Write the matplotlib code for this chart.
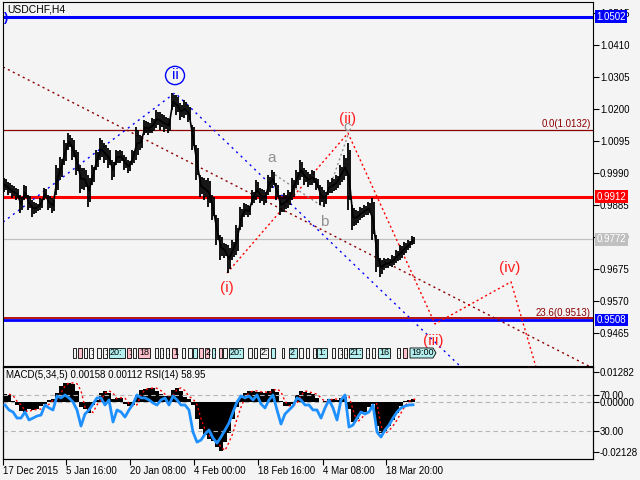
import matplotlib
matplotlib.use("Agg")
import matplotlib.pyplot as plt
import matplotlib.transforms as mtransforms
from matplotlib.patches import Rectangle, Polygon, Ellipse
import numpy as np

plt.rcParams['font.family'] = ['Liberation Sans', 'DejaVu Sans']

# USDCHF H4, price per block of 4 bars (high / low)
hi = [0.9974, 0.9961, 0.9951, 0.9941, 0.9918, 0.9951, 0.9918, 0.9902, 0.9892, 0.9908,
      0.9941, 0.9918, 0.9908, 1.0016, 1.0043, 1.0098, 1.0121, 1.0105, 1.0066, 1.0016,
      1.0007, 0.9984, 1.0016, 1.0066, 1.0105, 1.0088, 1.0072, 1.0033, 1.0066, 1.0066,
      1.0049, 1.0033, 1.0066, 1.0141, 1.0115, 1.0164, 1.0157, 1.0171, 1.0197, 1.0190,
      1.0180, 1.0171, 1.0253, 1.0246, 1.0220, 1.0230, 1.0213, 1.0148, 1.0082, 0.9984,
      0.9974, 0.9974, 0.9918, 0.9852, 0.9787, 0.9761, 0.9754, 0.9770, 0.9820, 0.9879,
      0.9892, 0.9885, 0.9934, 0.9967, 0.9941, 0.9934, 0.9984, 1.0000, 0.9957, 0.9918,
      0.9925, 0.9934, 0.9974, 1.0000, 1.0033, 1.0007, 0.9993, 1.0000, 0.9974, 0.9951,
      0.9934, 0.9967, 0.9974, 0.9984, 1.0016, 1.0049, 1.0088, 0.9885, 0.9869, 0.9879,
      0.9885, 0.9895, 0.9908, 0.9787, 0.9711, 0.9711, 0.9711, 0.9721, 0.9738, 0.9754,
      0.9764, 0.9770, 0.9783]
lo = [0.9928, 0.9918, 0.9908, 0.9902, 0.9859, 0.9902, 0.9869, 0.9846, 0.9859, 0.9869,
      0.9902, 0.9869, 0.9859, 0.9918, 0.9967, 1.0016, 1.0066, 1.0033, 0.9984, 0.9925,
      0.9934, 0.9879, 0.9951, 1.0000, 1.0033, 1.0023, 1.0007, 0.9967, 1.0016, 1.0023,
      1.0000, 0.9990, 1.0016, 1.0033, 1.0066, 1.0115, 1.0115, 1.0121, 1.0138, 1.0131,
      1.0125, 1.0121, 1.0197, 1.0180, 1.0164, 1.0171, 1.0157, 1.0066, 0.9967, 0.9911,
      0.9902, 0.9879, 0.9836, 0.9754, 0.9705, 0.9711, 0.9662, 0.9705, 0.9721, 0.9803,
      0.9846, 0.9846, 0.9885, 0.9902, 0.9892, 0.9885, 0.9918, 0.9941, 0.9902, 0.9852,
      0.9862, 0.9875, 0.9902, 0.9941, 0.9967, 0.9951, 0.9944, 0.9951, 0.9934, 0.9885,
      0.9879, 0.9918, 0.9925, 0.9934, 0.9951, 0.9967, 0.9869, 0.9803, 0.9820, 0.9836,
      0.9846, 0.9852, 0.9770, 0.9665, 0.9649, 0.9672, 0.9679, 0.9682, 0.9695, 0.9705,
      0.9721, 0.9738, 0.9754]

# MACD(5,34,5) main and RSI(14) per block
macd = [0.0035, 0.0030, 0.0005, -0.0010, -0.0035, -0.0040, -0.0030, -0.0031, -0.0028, -0.0015,
        -0.0008, 0.0010, 0.0014, 0.0040, 0.0070, 0.0083, 0.0083, 0.0080, 0.0050, -0.0020,
        -0.0030, -0.0043, -0.0010, 0.0010, 0.0040, 0.0049, 0.0040, 0.0015, 0.0020, 0.0018,
        -0.0005, -0.0014, -0.0010, 0.0030, 0.0055, 0.0058, 0.0062, 0.0060, 0.0050, 0.0035,
        0.0028, 0.0030, 0.0055, 0.0062, 0.0050, 0.0025, 0.0015, -0.0010, -0.0070, -0.0115,
        -0.0140, -0.0155, -0.0165, -0.0190, -0.0205, -0.0170, -0.0130, -0.0070, -0.0020, 0.0020,
        0.0040, 0.0049, 0.0049, 0.0045, 0.0045, 0.0040, 0.0050, 0.0058, 0.0045, 0.0005,
        -0.0014, -0.0014, -0.0005, 0.0030, 0.0049, 0.0045, 0.0040, 0.0035, 0.0020, 0.0003,
        0.0005, 0.0016, 0.0014, 0.0010, 0.0020, 0.0025, -0.0030, -0.0085, -0.0070, -0.0050,
        -0.0040, -0.0020, -0.0005, -0.0100, -0.0132, -0.0120, -0.0100, -0.0075, -0.0045, -0.0015,
        0.0005, 0.0012, 0.0016]
rsi = [58.7, 53.3, 51.1, 44.5, 44.5, 51.1, 42.4, 44.5, 46.7, 47.8,
       58.7, 55.5, 53.3, 68.5, 66.4, 69.6, 66.4, 62.0, 53.3, 35.8,
       48.9, 53.3, 59.8, 66.4, 66.4, 58.7, 64.2, 40.2, 53.3, 51.1,
       45.6, 53.3, 59.8, 69.6, 66.4, 66.4, 64.2, 60.9, 58.7, 64.2,
       66.4, 58.7, 68.5, 64.2, 58.7, 58.7, 53.3, 29.3, 18.4, 20.6,
       27.1, 31.5, 22.8, 17.3, 23.9, 31.5, 39.1, 51.1, 62.0, 68.5,
       66.4, 68.5, 64.2, 69.6, 59.8, 55.5, 64.2, 69.6, 53.3, 38.0,
       48.9, 53.3, 57.6, 66.4, 64.2, 58.7, 58.7, 53.3, 53.3, 44.5,
       55.5, 64.2, 55.5, 42.4, 64.2, 69.6, 34.7, 36.9, 44.5, 51.1,
       48.9, 51.1, 58.7, 29.3, 23.9, 31.5, 36.9, 44.5, 51.1, 55.5,
       57.6, 58.7, 58.95]

# wave marks (bar index, price)
wave_red_x = [224, 345, 432, 508, 536]
wave_red_y = [0.9662, 1.0121, 0.9495, 0.9633, 0.9320]
abc_x = [268, 320, 345]
abc_y = [0.9993, 0.9879, 1.0115]
blue_x = [0, 172, 470]
blue_y = [0.9829, 1.0253, 0.9316]
chan_x = [0, 600]
chan_y = [1.0338, 0.9333]

# time axis
date_pos = [0, 63, 127, 191, 255, 320, 383]
date_lbl = ['17 Dec 2015', '5 Jan 16:00', '20 Jan 08:00', '4 Feb 00:00',
            '18 Feb 16:00', '4 Mar 08:00', '18 Mar 20:00']
price_ticks = [1.0515, 1.0410, 1.0305, 1.0200, 1.0095, 0.9990, 0.9885,
               0.9780, 0.9675, 0.9570, 0.9465]

# session tags along the bottom of the price window
tag_start = [70, 75, 81, 86, 94, 100, 106, 124, 130, 135, 152, 157, 163, 169, 179, 185, 190,
             196, 202, 209, 216, 220, 226, 245, 251, 257, 268, 279, 286, 296, 303, 310, 314,
             329, 335, 341, 346, 363, 369, 375, 394, 400, 407]
tag_end = [73, 79, 84, 90, 98, 104, 122, 128, 133, 147, 155, 160, 166, 174, 182, 189, 194,
           200, 206, 212, 219, 224, 240, 249, 254, 265, 272, 281, 294, 300, 306, 313, 324,
           332, 339, 344, 359, 366, 372, 387, 397, 404, 430]
tag_kind = list('wpwwwwcpwp' 'wwwpwwcppc' 'pwcwwwcwcw' 'wwcwwwcwwc' 'wpc')
tag_text = ['', '', '', ':', '', ':', '20:', ':', '', '18',
            '', ':', ':', '1', '', '', '', '', '2', ':',
            '', '', '20:', '', '', '2:', '', '', '2', '',
            '', ':', '1:', '', ':', ':', '21:', ':', '', '16',
            ':', '', '19:00']

bg = '#f4f4f4'
brown = '#8b0000'
fig = plt.figure(figsize=(6.4, 4.8), dpi=100, facecolor=bg)
ax = fig.add_axes([3/640, 114/480, 590/640, 364/480], facecolor=bg)
axi = fig.add_axes([3/640, 21/480, 590/640, 92/480], facecolor=bg)
axr = axi.twinx()

xb = np.arange(len(hi)) * 4 + 2
hi_a = np.array(hi)
lo_a = np.array(lo)

# horizontal levels
ax.axhline(1.0502, color='#0000ff', lw=2.2, zorder=1)
ax.axhline(1.0132, color=brown, lw=0.9, zorder=1)
ax.axhline(0.9912, color='#ff0000', lw=2.2, zorder=1)
ax.axhline(0.9772, color='#c0c0c0', lw=0.9, zorder=1)
ax.axhline(0.9508, color='#0000ff', lw=2.0, zorder=1)
ax.axhline(0.9514, color='#b00000', lw=1.3, zorder=1)

# dotted wave lines
ax.plot(chan_x, chan_y, color=brown, lw=1, ls=(0, (1.5, 2.5)), zorder=2)
ax.plot(blue_x, blue_y, color='#0000ff', lw=1, ls=(0, (1.5, 3)), zorder=2)
ax.plot(wave_red_x, wave_red_y, color='#ff0000', lw=1, ls=(0, (1.5, 2)), zorder=2)
ax.plot(abc_x, abc_y, color='#909090', lw=1, ls=(0, (1.5, 2)), zorder=2)

# price bars
ax.vlines(xb - 1, lo_a, hi_a, color='black', lw=1.3, zorder=3)
ax.vlines(xb + 1, lo_a + (hi_a - lo_a) * 0.15, hi_a - (hi_a - lo_a) * 0.1,
          color='black', lw=1.3, zorder=3)
ax.plot(xb, (hi_a + lo_a) / 2, color='black', lw=1.2, zorder=3)

ax.set_xlim(0, 590)
ax.set_ylim(0.9357, 1.0551)
ax.set_xticks([])
ax.yaxis.tick_right()
ax.set_yticks(price_ticks)
ax.set_yticklabels(['%.4f' % v for v in price_ticks])
ax.tick_params(axis='y', direction='out', length=4, width=0.8, labelsize=7, pad=1)

# right-side price labels
def price_box(a, y, text, fc):
    a.annotate(text, xy=(1.0, y), xycoords=('axes fraction', 'data'),
               xytext=(2.5, 0), textcoords='offset points', ha='left', va='center',
               fontsize=7, color='white', zorder=6,
               bbox=dict(boxstyle='square,pad=0.15', fc=fc, ec='none'))

price_box(ax, 1.0502, '1.0502', '#0000ff')
price_box(ax, 0.9912, '0.9912', '#ff0000')
price_box(ax, 0.9772, '0.9772', '#c0c0c0')
price_box(ax, 0.9508, '0.9508', '#0000ff')

ax.text(588, 1.0134, '0.0(1.0132)', color=brown, fontsize=7, ha='right', va='bottom')
ax.text(588, 0.9516, '23.6(0.9513)', color=brown, fontsize=7, ha='right', va='bottom')

# wave labels
red = '#ff2020'
ax.text(224, 0.9612, '(i)', color=red, fontsize=11, ha='center', va='center')
ax.text(345, 1.0168, '(ii)', color=red, fontsize=11, ha='center', va='center')
ax.text(430, 0.9440, '(iii)', color=red, fontsize=11, ha='center', va='center')
ax.text(507, 0.9680, '(iv)', color=red, fontsize=11, ha='center', va='center')
ax.text(269, 1.0040, 'a', color='#909090', fontsize=11, ha='center', va='center')
ax.text(321, 0.9829, 'b', color='#909090', fontsize=11, ha='center', va='center')
ax.text(344, 1.0140, 'c', color='#909090', fontsize=11, ha='center', va='center')
ax.text(172, 1.0310, 'ii', color='#0000ff', fontsize=11, ha='center', va='center')
ax.add_patch(Ellipse((172, 1.0310), 19, 0.0060, fill=False, ec='#0000ff', lw=1))

ax.text(4, 1.0525, 'USDCHF,H4', fontsize=7.5, ha='left', va='center')
ax.text(1, 1.0500, ')', fontsize=9, color='#0000ff', ha='left', va='center', fontweight='bold')

# session tags
trans = mtransforms.blended_transform_factory(ax.transData, ax.transAxes)
colors = {'w': bg, 'p': '#ffc0cb', 'c': '#b4f0f0'}
for s, e, k, t in zip(tag_start, tag_end, tag_kind, tag_text):
    if t == '19:00':
        poly = Polygon([(s, 0.022), (e, 0.022), (e + 3, 0.036), (e, 0.0495), (s, 0.0495)],
                       closed=True, transform=trans, fc=colors[k], ec='black', lw=0.6, zorder=4)
        ax.add_patch(poly)
    else:
        ax.add_patch(Rectangle((s, 0.022), e - s, 0.0275, transform=trans,
                               fc=colors[k], ec='black', lw=0.6, zorder=4))
    if t:
        ax.text(s + 1, 0.036, t, transform=trans, fontsize=6.5, ha='left', va='center', zorder=5)

# indicator window: MACD histogram + signal, RSI on its own scale
axi.axhline(0, color='#b4b4b4', lw=0.8, ls=(0, (4, 3)))
axi.bar(xb, macd, width=4, color='black', zorder=2)
axi.plot(xb + 4, macd, color='#ff0000', lw=1, ls=(0, (1.5, 2)), zorder=3)
axi.set_xlim(0, 590)
axi.set_ylim(-0.0241, 0.0151)
axi.set_xticks(date_pos)
axi.set_xticklabels(date_lbl)
axi.tick_params(axis='x', direction='out', length=4, width=0.8, labelsize=7, pad=1)
for lb in axi.get_xticklabels():
    lb.set_ha('left')

axr.set_ylim(0, 100)
axr.axhline(70, color='#b4b4b4', lw=0.8, ls=(0, (4, 3)))
axr.axhline(30, color='#b4b4b4', lw=0.8, ls=(0, (4, 3)))
axr.plot(xb, rsi, color='#1e90ff', lw=2, zorder=4)
axr.set_yticks([70, 30])
axr.set_yticklabels(['70.00', '30.00'])
axr.tick_params(axis='y', direction='out', length=4, width=0.8, labelsize=7, pad=1)

axi.yaxis.tick_right()
axi.set_yticks([0.01282, 0.0, -0.02128])
axi.set_yticklabels(['0.01282', '0.00000', '-0.02128'])
axi.tick_params(axis='y', which='both', left=False, labelleft=False, right=True,
                labelright=True, direction='out', length=4, width=0.8, labelsize=7, pad=1)

axi.text(3, 0.0118, 'MACD(5,34,5) 0.00158 0.00112 RSI(14) 58.95', fontsize=7,
         ha='left', va='center')

for a in (ax, axi, axr):
    for sp in a.spines.values():
        sp.set_linewidth(0.8)

fig.savefig('out.png', dpi=100, facecolor=bg)
